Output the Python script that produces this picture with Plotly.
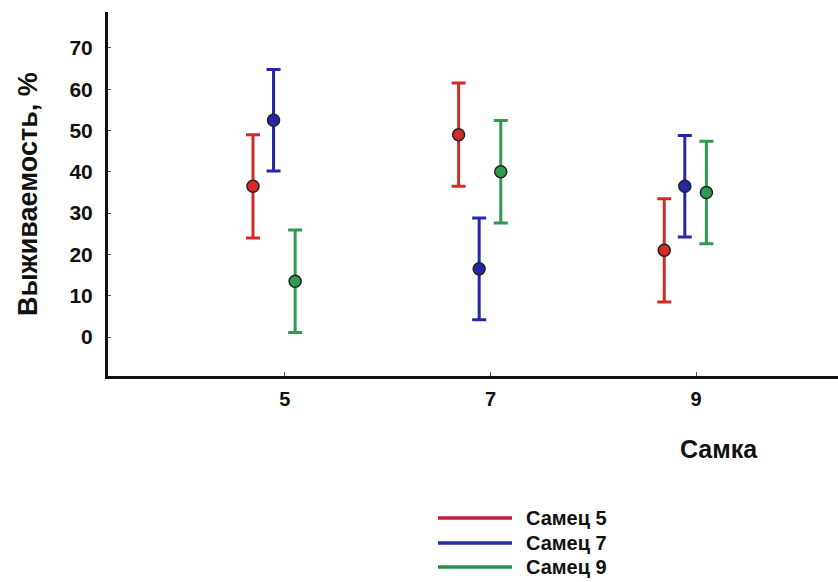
import plotly.graph_objects as go

# Survival (%) by female (Самка) for each male (Самец), mean ± error
females = [5, 7, 9]
series_names = ["Самец 5", "Самец 7", "Самец 9"]
male5 = [36.5, 49.0, 21.0]
male7 = [52.5, 16.5, 36.5]
male9 = [13.5, 40.0, 35.0]
male5_err = [12.5, 12.5, 12.5]
male7_err = [12.3, 12.3, 12.3]
male9_err = [12.4, 12.4, 12.4]
y_ticks = [0, 10, 20, 30, 40, 50, 60, 70]

colors = ["#d42a2a", "#2626a6", "#2f9a52"]
legend_colors = ["#c41e3a", "#1f2f9e", "#2a8f4a"]
offsets = [-0.31, -0.11, 0.10]

fig = go.Figure()
for vals, errs, col, off, name in zip(
    [male5, male7, male9], [male5_err, male7_err, male9_err],
    colors, offsets, series_names,
):
    fig.add_trace(go.Scatter(
        x=[f + off for f in females], y=vals, mode="markers", name=name,
        marker=dict(size=12, color=col, line=dict(color="#222222", width=1.5)),
        error_y=dict(type="data", array=errs, visible=True,
                     color=col, thickness=3, width=7),
        showlegend=False,
    ))

font = "Liberation Sans, Arial, sans-serif"
L, T, W, H = 108, 12, 730, 364

def px_x(px):
    return (px - L) / W

def px_y(py):
    return 1 - (py - T) / H

fig.update_layout(
    width=838, height=582,
    margin=dict(l=L, r=0, t=T, b=582 - T - H),
    paper_bgcolor="white", plot_bgcolor="white",
    font=dict(family=font, color="#111111"),
    xaxis=dict(
        range=[3.28, 10.38], tickvals=females, ticktext=[str(f) for f in females],
        showgrid=False, zeroline=False, showline=True, linecolor="#111111",
        linewidth=3, ticks="inside", ticklen=4, tickcolor="#555555",
        ticklabelstandoff=3,
        tickfont=dict(size=20, family=font, weight="bold"),
    ),
    yaxis=dict(
        range=[-9.44, 78.7], tickvals=y_ticks,
        showgrid=False, zeroline=False, showline=True, linecolor="#111111",
        linewidth=3, ticks="inside", ticklen=3, tickcolor="#555555",
        ticklabelstandoff=8,
        tickfont=dict(size=21, family=font, weight="bold"),
    ),
)

# axis titles
fig.add_annotation(text="Выживаемость, %", xref="paper", yref="paper",
                   x=px_x(28), y=px_y(194), textangle=-90, showarrow=False,
                   xanchor="center", yanchor="middle",
                   font=dict(size=27, family=font, weight="bold"))
fig.add_annotation(text="Самка", xref="paper", yref="paper",
                   x=px_x(719), y=px_y(449), showarrow=False,
                   xanchor="center", yanchor="middle",
                   font=dict(size=25, family=font, weight="bold"))

# legend drawn below the plot
legend_y = [518, 543, 567]
for name, col, py in zip(series_names, legend_colors, legend_y):
    yp = px_y(py)
    fig.add_shape(type="line", xref="paper", yref="paper",
                  x0=px_x(438), x1=px_x(512), y0=yp, y1=yp,
                  line=dict(color=col, width=3.5))
    fig.add_annotation(text=name, xref="paper", yref="paper",
                       x=px_x(524), y=yp, showarrow=False,
                       xanchor="left", yanchor="middle",
                       font=dict(size=20, family=font, weight="bold"))

fig.write_html("out.html")
